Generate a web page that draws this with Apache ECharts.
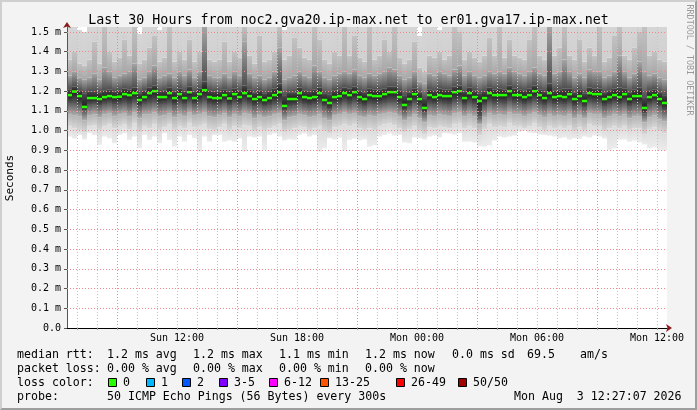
<!DOCTYPE html>
<html>
<head>
<meta charset="utf-8">
<script src="https://cdn.jsdelivr.net/npm/echarts@6/dist/echarts.min.js"></script>
<style>
html, body { margin: 0; padding: 0; background: #f3f3f3; }
#wrap { position: relative; width: 697px; height: 410px; }
#chart { position: absolute; left: 0; top: 0; width: 697px; height: 410px; }
#frame {
    position: absolute; left: 0; top: 0; width: 697px; height: 410px; box-sizing: border-box;
    border-top: 2px solid #cfcfcf; border-left: 2px solid #cfcfcf;
    border-right: 2px solid #9e9e9e; border-bottom: 2px solid #9e9e9e;
    pointer-events: none;
}
</style>
</head>
<body>
<div id="wrap">
    <div id="chart"></div>
    <div id="frame"></div>
</div>
<script>
// SmokePing style graph, 30 hours, one column = 15 minutes

const mono = 'DejaVu Sans Mono';
const startHour = 6.5;   // Sun 06:30 (hours since Sun 00:00)
const stepHour = 0.25;

// tick labels
const yTicks = [0, 0.1, 0.2, 0.3, 0.4, 0.5, 0.6, 0.7, 0.8, 0.9, 1.0, 1.1, 1.2, 1.3, 1.4, 1.5];
const xTickHours = [12, 18, 24, 30, 36];
const xTickLabels = ['Sun 12:00', 'Sun 18:00', 'Mon 00:00', 'Mon 06:00', 'Mon 12:00'];
const majorGridHours = [9, 15, 21, 27, 33];

// smoke quantiles in ms (lowest ping .. highest ping)
const q0 = [
    0.97, 0.96, 0.978, 0.955, 0.987, 0.978, 0.928, 0.97, 0.961, 0.936,
    0.978, 0.987, 0.953, 0.97, 0.911, 0.978, 0.953, 0.97, 0.936, 0.987,
    0.953, 0.919, 0.97, 0.944, 0.978, 0.961, 0.894, 0.97, 0.944, 0.978,
    0.978, 0.944, 0.95, 0.944, 0.96, 0.894, 0.97, 0.965, 0.97, 0.902,
    0.978, 0.985, 0.97, 0.95, 0.955, 0.953, 0.978, 0.985, 0.97, 0.978,
    0.894, 0.91, 0.961, 0.955, 0.965, 0.90, 0.953, 0.96, 0.95, 0.955,
    0.919, 0.925, 0.97, 0.978, 0.985, 0.975, 0.978, 0.94, 0.936, 0.965,
    0.961, 0.955, 0.97, 0.975, 0.965, 0.987, 0.985, 0.98, 0.987, 0.944,
    0.944, 0.94, 0.92, 0.919, 0.925, 0.95, 0.97, 0.965, 0.97, 0.975,
    0.995, 1.0, 0.99, 0.987, 0.98, 0.978, 0.975, 0.97, 0.961, 0.965,
    0.955, 0.961, 0.958, 0.97, 0.965, 0.975, 0.97, 0.96, 0.902, 0.91,
    0.953, 0.955, 0.944, 0.95, 0.94, 0.93, 0.91, 0.915, 0.902, 0.898
];
const q1 = [
    1.02, 1.01, 1.00, 0.99, 1.02, 1.025, 1.00, 1.02, 1.03, 1.01,
    1.02, 1.03, 1.005, 1.035, 0.99, 1.02, 1.01, 1.03, 1.00, 1.015,
    1.03, 1.00, 1.02, 1.01, 1.035, 1.015, 1.02, 1.03, 1.005, 1.00,
    1.015, 1.03, 1.00, 1.02, 1.01, 1.025, 1.02, 0.995, 1.015, 1.00,
    1.01, 1.02, 1.03, 0.99, 1.00, 1.01, 1.02, 1.015, 1.00, 1.01,
    1.02, 0.995, 0.985, 1.015, 1.02, 1.03, 1.02, 1.03, 1.01, 1.00,
    1.01, 1.00, 1.02, 1.03, 1.035, 1.025, 1.01, 0.99, 1.005, 1.02,
    0.995, 0.98, 1.015, 1.01, 1.02, 1.015, 1.01, 1.03, 1.035, 1.01,
    1.02, 1.01, 0.975, 1.005, 1.03, 1.015, 1.02, 1.015, 1.035, 1.02,
    1.02, 1.01, 1.02, 1.035, 1.015, 1.00, 1.02, 1.01, 1.02, 1.01,
    1.02, 0.995, 1.015, 1.00, 1.03, 1.02, 1.02, 0.995, 1.01, 1.02,
    1.01, 1.02, 1.00, 1.01, 1.01, 0.98, 1.005, 1.015, 0.995, 0.985
];
const q2 = [
    1.08, 1.075, 1.07, 1.05, 1.075, 1.08, 1.065, 1.08, 1.085, 1.07,
    1.08, 1.085, 1.07, 1.09, 1.06, 1.08, 1.08, 1.09, 1.07, 1.075,
    1.085, 1.065, 1.08, 1.07, 1.09, 1.075, 1.08, 1.09, 1.07, 1.065,
    1.075, 1.085, 1.065, 1.08, 1.07, 1.085, 1.08, 1.06, 1.075, 1.065,
    1.07, 1.08, 1.085, 1.05, 1.065, 1.07, 1.08, 1.075, 1.065, 1.07,
    1.08, 1.06, 1.05, 1.075, 1.08, 1.09, 1.08, 1.085, 1.07, 1.065,
    1.075, 1.07, 1.08, 1.085, 1.09, 1.085, 1.07, 1.05, 1.065, 1.08,
    1.06, 1.04, 1.075, 1.07, 1.08, 1.075, 1.07, 1.085, 1.09, 1.07,
    1.08, 1.07, 1.03, 1.065, 1.085, 1.075, 1.08, 1.075, 1.09, 1.08,
    1.08, 1.07, 1.08, 1.09, 1.075, 1.065, 1.08, 1.07, 1.075, 1.07,
    1.08, 1.06, 1.075, 1.06, 1.085, 1.08, 1.08, 1.06, 1.07, 1.08,
    1.07, 1.08, 1.06, 1.07, 1.07, 1.04, 1.065, 1.075, 1.055, 1.045
];
const q3 = [
    1.14, 1.14, 1.13, 1.10, 1.13, 1.135, 1.125, 1.135, 1.14, 1.13,
    1.135, 1.14, 1.13, 1.145, 1.12, 1.135, 1.14, 1.145, 1.13, 1.135,
    1.14, 1.125, 1.14, 1.13, 1.145, 1.13, 1.14, 1.15, 1.13, 1.125,
    1.13, 1.14, 1.125, 1.14, 1.13, 1.145, 1.135, 1.12, 1.13, 1.12,
    1.125, 1.135, 1.14, 1.10, 1.12, 1.125, 1.14, 1.13, 1.125, 1.13,
    1.14, 1.12, 1.105, 1.13, 1.135, 1.145, 1.135, 1.145, 1.13, 1.12,
    1.135, 1.13, 1.135, 1.14, 1.145, 1.145, 1.13, 1.10, 1.12, 1.14,
    1.12, 1.09, 1.135, 1.13, 1.14, 1.135, 1.13, 1.145, 1.15, 1.125,
    1.14, 1.13, 1.07, 1.125, 1.145, 1.135, 1.14, 1.135, 1.15, 1.14,
    1.14, 1.13, 1.14, 1.15, 1.135, 1.125, 1.14, 1.13, 1.135, 1.13,
    1.14, 1.12, 1.135, 1.115, 1.145, 1.14, 1.14, 1.12, 1.13, 1.14,
    1.13, 1.14, 1.12, 1.13, 1.13, 1.085, 1.13, 1.14, 1.12, 1.10
];
// median rtt (ms)
const median = [
    1.18, 1.198, 1.175, 1.12, 1.165, 1.165, 1.16, 1.17, 1.175, 1.17,
    1.172, 1.185, 1.18, 1.19, 1.155, 1.17, 1.19, 1.2, 1.17, 1.17,
    1.19, 1.165, 1.185, 1.165, 1.195, 1.165, 1.185, 1.205, 1.17, 1.165,
    1.165, 1.18, 1.163, 1.185, 1.17, 1.19, 1.175, 1.16, 1.17, 1.155,
    1.165, 1.18, 1.195, 1.125, 1.16, 1.16, 1.19, 1.17, 1.165, 1.17,
    1.19, 1.155, 1.14, 1.17, 1.175, 1.19, 1.18, 1.195, 1.17, 1.16,
    1.18, 1.175, 1.175, 1.185, 1.195, 1.195, 1.17, 1.13, 1.16, 1.185,
    1.16, 1.115, 1.18, 1.17, 1.18, 1.175, 1.175, 1.195, 1.2, 1.165,
    1.19, 1.17, 1.15, 1.165, 1.19, 1.18, 1.18, 1.18, 1.2, 1.18,
    1.18, 1.17, 1.18, 1.2, 1.18, 1.165, 1.19, 1.17, 1.175, 1.17,
    1.185, 1.16, 1.175, 1.15, 1.19, 1.185, 1.185, 1.16, 1.17, 1.18,
    1.17, 1.185, 1.16, 1.175, 1.175, 1.115, 1.17, 1.18, 1.16, 1.14
];
const q5 = [
    1.21, 1.225, 1.205, 1.19, 1.2, 1.2, 1.195, 1.205, 1.21, 1.2,
    1.205, 1.215, 1.21, 1.22, 1.19, 1.205, 1.22, 1.23, 1.2, 1.205,
    1.22, 1.2, 1.215, 1.2, 1.225, 1.2, 1.215, 1.25, 1.205, 1.2,
    1.2, 1.21, 1.2, 1.215, 1.205, 1.23, 1.21, 1.195, 1.205, 1.19,
    1.2, 1.215, 1.24, 1.18, 1.195, 1.195, 1.22, 1.205, 1.2, 1.21,
    1.22, 1.19, 1.185, 1.205, 1.21, 1.22, 1.215, 1.225, 1.205, 1.195,
    1.215, 1.21, 1.21, 1.215, 1.225, 1.225, 1.205, 1.18, 1.195, 1.215,
    1.195, 1.165, 1.21, 1.205, 1.215, 1.21, 1.21, 1.225, 1.23, 1.2,
    1.22, 1.205, 1.19, 1.2, 1.22, 1.21, 1.215, 1.21, 1.23, 1.215,
    1.21, 1.205, 1.215, 1.23, 1.21, 1.2, 1.24, 1.205, 1.21, 1.215,
    1.215, 1.195, 1.21, 1.19, 1.22, 1.215, 1.215, 1.195, 1.205, 1.215,
    1.22, 1.215, 1.195, 1.21, 1.22, 1.17, 1.205, 1.21, 1.195, 1.18
];
const q6 = [
    1.28, 1.30, 1.27, 1.26, 1.27, 1.29, 1.26, 1.32, 1.3, 1.27,
    1.28, 1.29, 1.3, 1.34, 1.26, 1.27, 1.3, 1.33, 1.27, 1.28,
    1.29, 1.27, 1.3, 1.28, 1.31, 1.27, 1.3, 1.6, 1.28, 1.27,
    1.27, 1.29, 1.27, 1.3, 1.28, 1.45, 1.29, 1.27, 1.28, 1.26,
    1.27, 1.3, 1.42, 1.26, 1.27, 1.28, 1.3, 1.28, 1.27, 1.33,
    1.3, 1.27, 1.26, 1.28, 1.29, 1.3, 1.29, 1.31, 1.28, 1.27,
    1.29, 1.28, 1.29, 1.3, 1.32, 1.31, 1.28, 1.26, 1.27, 1.3,
    1.25, 1.24, 1.29, 1.28, 1.3, 1.29, 1.28, 1.31, 1.33, 1.28,
    1.3, 1.28, 1.27, 1.28, 1.3, 1.29, 1.3, 1.29, 1.32, 1.3,
    1.29, 1.28, 1.3, 1.32, 1.29, 1.28, 1.6, 1.29, 1.3, 1.36,
    1.3, 1.27, 1.29, 1.27, 1.31, 1.3, 1.3, 1.27, 1.28, 1.3,
    1.38, 1.3, 1.27, 1.29, 1.35, 1.3, 1.28, 1.29, 1.27, 1.26
];
const q7 = [
    1.36, 1.4, 1.34, 1.33, 1.36, 1.45, 1.34, 1.6, 1.4, 1.35,
    1.37, 1.46, 1.38, 1.6, 1.34, 1.36, 1.42, 1.48, 1.35, 1.37,
    1.6, 1.35, 1.4, 1.36, 1.46, 1.35, 1.4, 1.6, 1.36, 1.35,
    1.36, 1.45, 1.35, 1.4, 1.37, 1.6, 1.38, 1.34, 1.48, 1.35,
    1.36, 1.4, 1.6, 1.36, 1.38, 1.47, 1.42, 1.37, 1.36, 1.6,
    1.46, 1.36, 1.34, 1.4, 1.38, 1.6, 1.38, 1.48, 1.37, 1.35,
    1.6, 1.36, 1.38, 1.46, 1.4, 1.6, 1.37, 1.34, 1.36, 1.45,
    1.32, 1.3, 1.38, 1.37, 1.4, 1.36, 1.38, 1.6, 1.5, 1.36,
    1.4, 1.37, 1.35, 1.38, 1.47, 1.38, 1.6, 1.37, 1.46, 1.38,
    1.37, 1.36, 1.46, 1.6, 1.38, 1.36, 1.6, 1.38, 1.42, 1.6,
    1.38, 1.36, 1.46, 1.35, 1.42, 1.38, 1.6, 1.35, 1.37, 1.48,
    1.6, 1.38, 1.36, 1.42, 1.5, 1.6, 1.38, 1.4, 1.36, 1.35
];
const q8 = [
    1.6, 1.6, 1.51, 1.5, 1.6, 1.6, 1.6, 1.6, 1.6, 1.6,
    1.6, 1.6, 1.6, 1.6, 1.49, 1.6, 1.6, 1.6, 1.51, 1.6,
    1.6, 1.6, 1.6, 1.6, 1.6, 1.6, 1.6, 1.6, 1.6, 1.6,
    1.6, 1.6, 1.6, 1.6, 1.6, 1.6, 1.6, 1.6, 1.6, 1.6,
    1.6, 1.6, 1.6, 1.51, 1.6, 1.6, 1.6, 1.6, 1.6, 1.6,
    1.6, 1.6, 1.6, 1.6, 1.6, 1.6, 1.6, 1.6, 1.6, 1.6,
    1.6, 1.6, 1.6, 1.6, 1.6, 1.6, 1.6, 1.6, 1.6, 1.6,
    1.48, 1.6, 1.6, 1.6, 1.51, 1.6, 1.6, 1.6, 1.6, 1.6,
    1.6, 1.6, 1.6, 1.6, 1.6, 1.6, 1.6, 1.6, 1.6, 1.6,
    1.6, 1.6, 1.6, 1.6, 1.6, 1.6, 1.6, 1.6, 1.6, 1.6,
    1.6, 1.6, 1.6, 1.6, 1.6, 1.6, 1.6, 1.6, 1.6, 1.6,
    1.6, 1.6, 1.6, 1.6, 1.6, 1.6, 1.6, 1.6, 1.6, 1.6
];

// legend text
const statRows = [
    ['median rtt:', '1.2 ms avg', '1.2 ms max', '1.1 ms min', '1.2 ms now', '0.0 ms sd', '69.5', 'am/s'],
    ['packet loss:', '0.00 % avg', '0.00 % max', '0.00 % min', '0.00 % now']
];
const lossNames = ['0', '1', '2', '3-5', '6-12', '13-25', '26-49', '50/50'];
const lossColors = ['#26ff00', '#00b8ff', '#0059ff', '#7e00ff', '#ff00ff', '#ff5500', '#ff0000', '#a10000'];
const probeText = '50 ICMP Echo Pings (56 Bytes) every 300s';
const stampText = 'Mon Aug  3 12:27:07 2026';

// band shading, bottom colour -> top colour of each band
const bandShades = [
    ['#ececec', '#dcdcdc'],
    ['#d8d8d8', '#b4b4b4'],
    ['#b0b0b0', '#5c5c5c'],
    ['#585858', '#1e1e1e'],
    ['#1e1e1e', '#4c4c4c'],
    ['#505050', '#a4a4a4'],
    ['#a8a8a8', '#c2c2c2'],
    ['#d0d0d0', '#d6d6d6']
];
const medianColor = '#26ff00';
const medianHalf = 0.0065;

const categories = median.map((_, i) => startHour + stepHour * (i + 0.5));
const hourMarks = [];
for (let h = Math.ceil(startHour); h <= startHour + 30; h++) hourMarks.push(h);

const barBase = {
    type: 'bar',
    xAxisIndex: 0,
    yAxisIndex: 0,
    barCategoryGap: '0%',
    barGap: '-100%',
    silent: true,
    animation: false
};

const series = [];
const layers = [q0, q1, q2, q3, median, q5, q6, q7, q8];
series.push({ ...barBase, stack: 'smoke', data: q0, itemStyle: { color: 'transparent' } });
for (let i = 1; i < layers.length; i++) {
    const [bottom, top] = bandShades[i - 1];
    series.push({
        ...barBase,
        stack: 'smoke',
        data: layers[i].map((v, k) => Math.max(0, +(v - layers[i - 1][k]).toFixed(4))),
        itemStyle: {
            color: new echarts.graphic.LinearGradient(0, 0, 0, 1, [
                { offset: 0, color: top },
                { offset: 1, color: bottom }
            ])
        }
    });
}
// median marks
series.push({ ...barBase, stack: 'med', data: median.map(v => +(v - medianHalf).toFixed(4)), itemStyle: { color: 'transparent' } });
series.push({ ...barBase, stack: 'med', data: median.map(() => medianHalf * 2), itemStyle: { color: medianColor } });

// grid lines drawn on top of the smoke
const gridLines = [];
hourMarks.forEach(h => {
    const major = majorGridHours.includes(h);
    gridLines.push({ xAxis: h, lineStyle: { color: major ? '#f08a8a' : '#c4c4c4', type: [1, 2], width: 1 } });
});
yTicks.slice(1).forEach(v => {
    gridLines.push({ yAxis: v, lineStyle: { color: '#f08a8a', type: [1, 2], width: 1 } });
});
series.push({
    type: 'line',
    xAxisIndex: 1,
    yAxisIndex: 0,
    data: [],
    silent: true,
    animation: false,
    markLine: {
        silent: true,
        animation: false,
        symbol: ['none', 'none'],
        label: { show: false },
        emphasis: { disabled: true },
        data: gridLines
    }
});

// legend / footer graphics
const graphic = [];
const textEl = (x, y, text) => ({
    type: 'text', left: x, top: y,
    style: { text: text, font: '11.6px "' + mono + '"', fill: '#000' }
});
const colX = [17, 107, 193, 279, 365, 452, 527, 580];
statRows.forEach((row, r) => {
    row.forEach((t, c) => graphic.push(textEl(colX[c], 349 + r * 14, t)));
});
graphic.push(textEl(17, 377, 'loss color:'));
const boxX = [108, 146, 182, 219, 269, 320, 396, 458];
lossNames.forEach((n, i) => {
    graphic.push({
        type: 'rect', left: boxX[i], top: 378,
        shape: { width: 8, height: 8 },
        style: { fill: lossColors[i], stroke: '#000', lineWidth: 1 }
    });
    graphic.push(textEl(boxX[i] + 15, 377, n));
});
graphic.push(textEl(17, 391, 'probe:'));
graphic.push(textEl(107, 391, probeText));
graphic.push(textEl(514, 391, stampText));
graphic.push({
    type: 'text', x: 10, y: 178, rotation: Math.PI / 2,
    style: { text: 'Seconds', font: '11px "' + mono + '"', fill: '#000', align: 'center', verticalAlign: 'middle' }
});
graphic.push({
    type: 'text', x: 689, y: 60, rotation: -Math.PI / 2,
    style: { text: 'RRDTOOL / TOBI OETIKER', font: '8.4px "' + mono + '"', fill: '#9a9a9a', align: 'center', verticalAlign: 'middle' }
});

const chart = echarts.init(document.getElementById('chart'), null, { renderer: 'canvas' });
chart.setOption({
    backgroundColor: 'transparent',
    animation: false,
    title: {
        text: 'Last 30 Hours from noc2.gva20.ip-max.net to er01.gva17.ip-max.net',
        left: 'center',
        top: 9,
        textStyle: { fontFamily: mono, fontSize: 13.3, fontWeight: 'normal', color: '#000' }
    },
    grid: { left: 67, right: 30, top: 27, bottom: 82, show: true, backgroundColor: '#ffffff', borderWidth: 0 },
    xAxis: [
        { type: 'category', data: categories, show: false, boundaryGap: true },
        {
            type: 'value', min: startHour, max: startHour + 30, position: 'bottom', z: 3,
            axisLine: { show: true, onZero: false, lineStyle: { color: '#000', width: 1 } },
            axisTick: { show: true, customValues: hourMarks, length: 2, lineStyle: { color: '#999' } },
            axisLabel: {
                customValues: xTickHours,
                formatter: v => xTickLabels[xTickHours.indexOf(v)],
                fontFamily: mono, fontSize: 10, color: '#000', margin: 5
            },
            splitLine: { show: false }
        },
        {
            type: 'value', min: startHour, max: startHour + 30, position: 'bottom', z: 2,
            axisLine: { show: true, onZero: false, symbol: ['none', 'arrow'], symbolSize: [6, 6], symbolOffset: [0, 5], lineStyle: { color: '#8b1a1a', width: 1 } },
            axisTick: { show: false }, axisLabel: { show: false }, splitLine: { show: false }
        }
    ],
    yAxis: [
        {
            type: 'value', min: 0, max: 1.525, position: 'left', z: 3,
            axisLine: { show: true, onZero: false, lineStyle: { color: '#555', width: 1 } },
            axisTick: { show: true, customValues: yTicks, length: 3, lineStyle: { color: '#555' } },
            axisLabel: {
                customValues: yTicks,
                formatter: v => v === 0 ? '0.0' : v.toFixed(1) + ' m',
                fontFamily: mono, fontSize: 10, color: '#000', margin: 6
            },
            splitLine: { show: false }
        },
        {
            type: 'value', min: 0, max: 1.525, position: 'left', offset: 0, z: 2,
            axisLine: { show: true, onZero: false, symbol: ['none', 'arrow'], symbolSize: [6, 6], symbolOffset: [0, 5], lineStyle: { color: '#8b1a1a', width: 1 } },
            axisTick: { show: false }, axisLabel: { show: false }, splitLine: { show: false }
        }
    ],
    series: series,
    graphic: graphic
});
</script>
</body>
</html>
